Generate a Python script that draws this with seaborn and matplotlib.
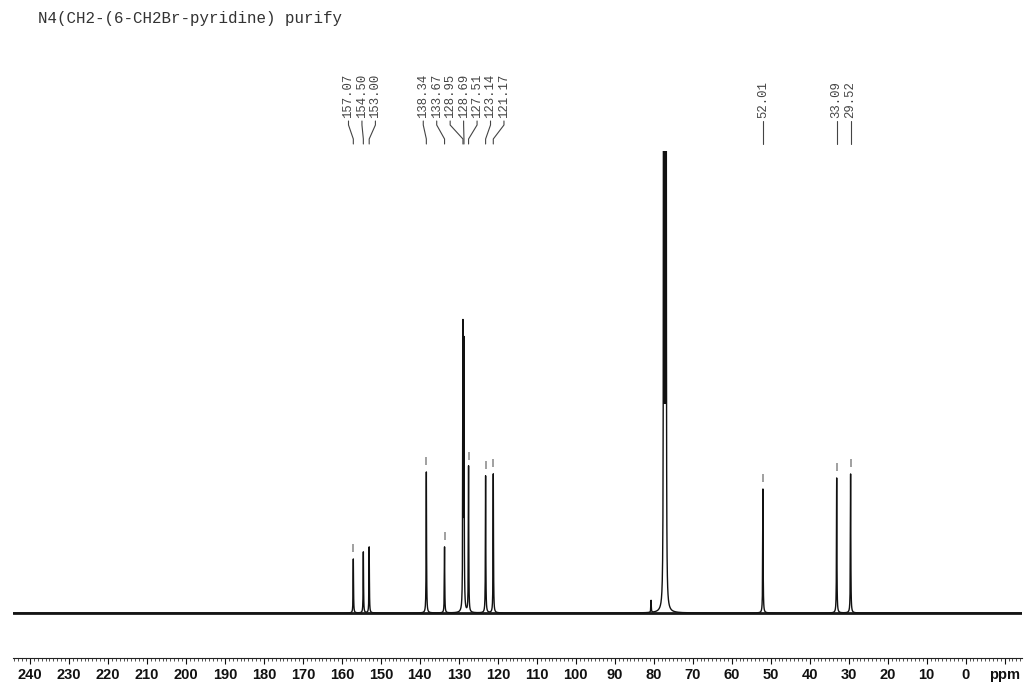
import numpy as np
import pandas as pd
import seaborn as sns
import matplotlib
matplotlib.use("Agg")
import matplotlib.pyplot as plt
import matplotlib.transforms as mtransforms

# picked peaks (ppm) and heights (pixels above baseline)
peak_ppm = [157.07, 154.50, 153.00, 138.34, 133.67, 128.95, 128.69,
            127.51, 123.14, 121.17, 52.01, 33.09, 29.52]
peak_height = [54, 61, 66, 141, 66, 280, 262, 146, 137, 139, 124, 135, 139]
peak_marked = [True, False, False, True, True, False, False,
               True, True, True, True, True, True]

# solvent triplet (CDCl3) and a small unlabelled spike
extra_ppm = [77.48, 77.16, 76.84, 80.7]
extra_height = [800, 800, 800, 12]

title = "N4(CH2-(6-CH2Br-pyridine) purify"
tick_ppm = list(range(240, -1, -10)) + [-10]
tick_text = [str(t) for t in range(240, -1, -10)] + ["ppm"]

W, H = 1026, 684


def spectrum(x, centers, heights, gamma=0.06):
    y = np.zeros_like(x)
    for c, h in zip(centers, heights):
        y += h / (1.0 + ((x - c) / gamma) ** 2)
    return y


def spread_labels(pos, step):
    # pos sorted descending; returns label positions with min gap `step`
    clusters = [[p] for p in pos]
    while True:
        lab = []
        for c in clusters:
            m = np.mean(c)
            n = len(c)
            lab.append([m + step * ((n - 1) / 2 - i) for i in range(n)])
        merged = False
        for i in range(len(clusters) - 1):
            if lab[i][-1] - lab[i + 1][0] < step:
                clusters[i] = clusters[i] + clusters[i + 1]
                del clusters[i + 1]
                merged = True
                break
        if not merged:
            return [v for l in lab for v in l]


x = np.arange(-16, 246, 0.01)
y = spectrum(x, peak_ppm + extra_ppm, peak_height + extra_height)
df = pd.DataFrame({"ppm": x, "intensity": y})

sns.set_style("white")
plt.rcParams["font.family"] = ["Liberation Sans", "DejaVu Sans"]

fig = plt.figure(figsize=(W / 100, H / 100), dpi=100)
ax = fig.add_axes([13 / W, 26 / H, 1009 / W, 507 / H])

ax.axhline(0, color="#1a1a1a", lw=2.0, zorder=1)
sns.lineplot(data=df, x="ppm", y="intensity", ax=ax, color="#111111",
             lw=1.0, estimator=None, sort=False, zorder=2)

ax.set_xlim(244.36, -14.44)
ax.set_ylim(-45, 462)
ax.set_xlabel("")
ax.set_ylabel("")
ax.set_yticks([])
for s in ["top", "left", "right"]:
    ax.spines[s].set_visible(False)
ax.spines["bottom"].set_linewidth(0.8)
ax.spines["bottom"].set_color("#222222")

ax.set_xticks(tick_ppm)
ax.set_xticklabels(tick_text, fontsize=10.5, fontweight="bold")
ax.set_xticks(np.arange(-14, 245, 1), minor=True)
ax.tick_params(axis="x", which="major", direction="out", length=4,
               width=0.8, pad=3.5, colors="#111111")
ax.tick_params(axis="x", which="minor", direction="out", length=2,
               width=0.6, colors="#333333")
ax.tick_params(axis="x", which="both", bottom=True)

# peak picking marks above picked peaks
for p, h, m in zip(peak_ppm, peak_height, peak_marked):
    if m:
        ax.plot([p, p], [h + 7, h + 15], color="#999999", lw=1.3,
                solid_capstyle="butt", zorder=3)

# labels with connectors
tr = mtransforms.blended_transform_factory(ax.transData, fig.transFigure)
lab_ppm = spread_labels(sorted(peak_ppm, reverse=True), 3.45)


def fy(px):
    return 1 - px / H


for p, lp in zip(sorted(peak_ppm, reverse=True), lab_ppm):
    ax.text(lp, fy(118), f"{p:.2f}", transform=tr, rotation=90,
            ha="center", va="bottom", fontsize=8.8, color="#444444",
            family=["Liberation Mono", "DejaVu Sans Mono"], clip_on=False)
    ax.plot([lp, lp, p, p], [fy(121), fy(125), fy(139), fy(144)],
            transform=tr, color="#444444", lw=0.8, clip_on=False)

fig.text(38 / W, fy(18), title, ha="left", va="center", fontsize=11.4,
         color="#333333", family=["Liberation Mono", "DejaVu Sans Mono"])

fig.savefig("out.png", dpi=100, facecolor="white")
